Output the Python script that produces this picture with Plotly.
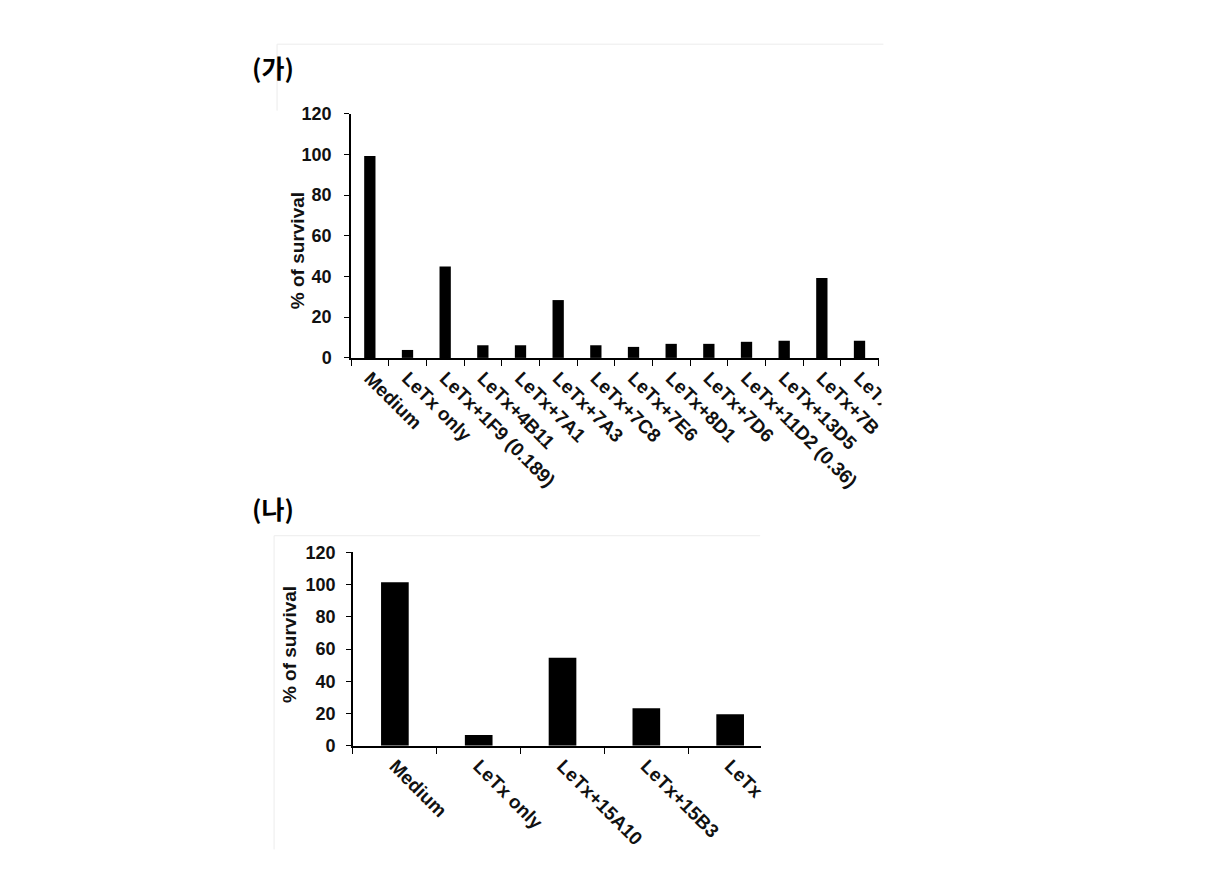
import plotly.graph_objects as go

# ---- data ----
top_categories = ["Medium", "LeTx only", "LeTx+1F9 (0.189)", "LeTx+4B11", "LeTx+7A1",
                  "LeTx+7A3", "LeTx+7C8", "LeTx+7E6", "LeTx+8D1", "LeTx+7D6",
                  "LeTx+11D2 (0.36)", "LeTx+13D5", "LeTx+7B", "LeTx"]
top_values = [99.2, 3.9, 44.9, 6.2, 6.2, 28.4, 6.2, 5.4, 6.9, 6.9, 7.9, 8.4, 39.3, 8.4]

bottom_categories = ["Medium", "LeTx only", "LeTx+15A10", "LeTx+15B3", "LeTx"]
bottom_values = [101.4, 6.7, 54.7, 23.3, 19.6]

y_ticks = [0, 20, 40, 60, 80, 100, 120]
y_title = "% of survival"
panel_labels = ["(가)", "(나)"]

# ---- layout helpers ----
W, H = 1211, 878
def px(x):
    return x / W
def py(y):
    return 1 - y / H

FONT = "Liberation Sans, Arial, sans-serif"
TXT = "#111111"

fig = go.Figure()
fig.add_trace(go.Bar(x=top_categories, y=top_values, marker_color="black",
                     marker_line_width=0, width=0.3, xaxis="x", yaxis="y",
                     showlegend=False))
fig.add_trace(go.Bar(x=bottom_categories, y=bottom_values, marker_color="black",
                     marker_line_width=0, width=0.33, xaxis="x2", yaxis="y2",
                     showlegend=False))

xtickfont = dict(family=FONT, size=19, color=TXT, weight="bold")
ytickfont = dict(family=FONT, size=18, color=TXT, weight="bold")

xcommon = dict(type="category", showline=True, linecolor="black", linewidth=1.5,
               ticks="outside", ticklen=6, tickwidth=1.2, tickcolor="black",
               tickson="boundaries", tickangle=45, showgrid=False, zeroline=False,
               tickfont=xtickfont, fixedrange=True)
ycommon = dict(range=[0, 120], tickvals=y_ticks, showline=True, linecolor="black",
               linewidth=1.5, ticks="outside", ticklen=5, tickwidth=1.2,
               tickcolor="black", showgrid=False, zeroline=False,
               tickfont=ytickfont, fixedrange=True)

fig.update_layout(
    width=W, height=H,
    margin=dict(l=0, r=0, t=0, b=0),
    paper_bgcolor="white", plot_bgcolor="white",
    xaxis=dict(domain=[px(356), px(892)], anchor="y",
               range=[-0.5, 13.53], **xcommon),
    yaxis=dict(domain=[py(356), py(106)], anchor="x", ticklabelstandoff=9, **ycommon),
    xaxis2=dict(domain=[px(358), px(772)], anchor="y2",
                range=[-0.5, 4.37], **xcommon),
    yaxis2=dict(domain=[py(753), py(555)], anchor="x2", ticklabelstandoff=7, **ycommon),
)

# y-axis titles
fig.add_annotation(x=px(302), y=py(246), xref="paper", yref="paper", text=y_title,
                   textangle=-90, showarrow=False, xanchor="center", yanchor="middle",
                   font=dict(family=FONT, size=19, color=TXT, weight="bold"))
fig.add_annotation(x=px(293), y=py(649), xref="paper", yref="paper", text=y_title,
                   textangle=-90, showarrow=False, xanchor="center", yanchor="middle",
                   font=dict(family=FONT, size=19, color=TXT, weight="bold"))

# panel labels
fig.add_annotation(x=px(254), y=py(58), xref="paper", yref="paper", text=panel_labels[0],
                   showarrow=False, xanchor="left", yanchor="middle",
                   font=dict(family="Noto Sans CJK KR", size=25, color="black", weight="bold"))
fig.add_annotation(x=px(254), y=py(510), xref="paper", yref="paper", text=panel_labels[1],
                   showarrow=False, xanchor="left", yanchor="middle",
                   font=dict(family="Noto Sans CJK KR", size=25, color="black", weight="bold"))

# image crop edges (labels cut off at right edges of each panel)
fig.add_shape(type="rect", xref="paper", yref="paper", x0=px(894), x1=1.0,
              y0=py(525), y1=py(361), fillcolor="white", line_width=0, layer="above")
fig.add_shape(type="rect", xref="paper", yref="paper", x0=px(774), x1=1.0,
              y0=py(878), y1=py(758), fillcolor="white", line_width=0, layer="above")

# faint scan borders
faint = dict(color="#ececec", width=1)
fig.add_shape(type="line", xref="paper", yref="paper", x0=px(281), x1=px(896),
              y0=py(35), y1=py(35), line=faint)
fig.add_shape(type="line", xref="paper", yref="paper", x0=px(281), x1=px(281),
              y0=py(35), y1=py(103), line=faint)
fig.add_shape(type="line", xref="paper", yref="paper", x0=px(278), x1=px(771),
              y0=py(538), y1=py(538), line=faint)
fig.add_shape(type="line", xref="paper", yref="paper", x0=px(278), x1=px(278),
              y0=py(538), y1=py(859), line=faint)

fig.write_html("out.html")
